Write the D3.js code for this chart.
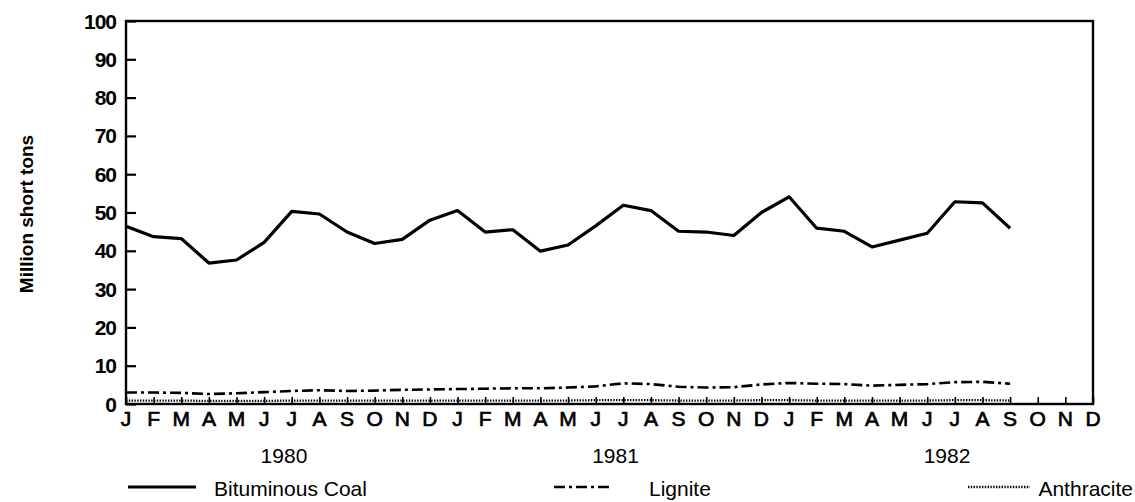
<!DOCTYPE html>
<html>
<head>
<meta charset="utf-8">
<script src="https://cdn.jsdelivr.net/npm/d3@7"></script>
<style>
  html, body { margin: 0; padding: 0; background: #fff; }
  svg { display: block; }
  text { font-family: "Liberation Sans", Arial, Helvetica, sans-serif; fill: #000; }
</style>
</head>
<body>
<svg id="chart" width="1135" height="502"></svg>
<script>
// Monthly coal production, Jan 1980 – Sep 1982 (million short tons)
const monthLetters = ["J","F","M","A","M","J","J","A","S","O","N","D"];
const years = ["1980", "1981", "1982"];
const yTicks = [0, 10, 20, 30, 40, 50, 60, 70, 80, 90, 100];

const bituminous = [
  46.4, 43.7, 43.2, 36.8, 37.6, 42.2, 50.3, 49.6, 44.9, 41.9, 43.0, 48.0,
  50.5, 44.9, 45.5, 39.9, 41.5, 46.5, 51.9, 50.5, 45.1, 44.9, 44.0, 50.0,
  54.1, 45.9, 45.1, 41.0, 42.8, 44.6, 52.8, 52.5, 45.9
];
const lignite = [
  3.0, 3.0, 2.9, 2.6, 2.8, 3.1, 3.4, 3.6, 3.4, 3.5, 3.7, 3.8,
  3.9, 4.0, 4.1, 4.1, 4.3, 4.6, 5.4, 5.2, 4.5, 4.3, 4.4, 5.1,
  5.5, 5.3, 5.2, 4.8, 5.0, 5.2, 5.7, 5.8, 5.3
];
const anthracite = [
  0.9, 0.9, 0.9, 0.8, 0.8, 0.8, 0.9, 0.9, 0.9, 0.9, 0.9, 0.9,
  0.9, 0.9, 0.9, 0.9, 0.9, 1.0, 1.0, 1.0, 0.9, 0.9, 0.9, 1.0,
  1.0, 0.9, 0.9, 0.9, 0.9, 0.9, 1.0, 1.0, 0.9
];

const seriesList = [
  { name: "Bituminous Coal", values: bituminous, dash: null, width: 3.2 },
  { name: "Lignite", values: lignite, dash: "11,4,3,4", width: 2.6 },
  { name: "Anthracite", values: anthracite, dash: "1.4,1.4", width: 2.3 }
];

const svg = d3.select("#chart");
const plotLeft = 126, plotRight = 1093, plotTop = 21, plotBottom = 404;

// one slot per month across the three years
const monthKeys = d3.range(years.length * 12);
const x = d3.scalePoint().domain(monthKeys).range([plotLeft, plotRight]);
const y = d3.scaleLinear().domain([0, 100]).range([plotBottom, plotTop]);

const ink = "#000";

// frame
svg.append("rect")
  .attr("x", plotLeft).attr("y", plotTop)
  .attr("width", plotRight - plotLeft).attr("height", plotBottom - plotTop)
  .attr("fill", "none").attr("stroke", ink).attr("stroke-width", 2.4);

// y axis: inward ticks, labels on the left
const yAxis = d3.axisRight(y).tickValues(yTicks).tickSize(10).tickFormat("");
const gy = svg.append("g").attr("transform", `translate(${plotLeft},0)`).call(yAxis);
gy.select(".domain").remove();
gy.selectAll(".tick line").attr("stroke", ink).attr("stroke-width", 2.2);

svg.append("g").selectAll("text")
  .data(yTicks)
  .join("text")
  .attr("x", 116)
  .attr("y", d => y(d))
  .attr("dy", "0.36em")
  .attr("text-anchor", "end")
  .attr("font-size", 21)
  .attr("font-weight", "bold")
  .attr("letter-spacing", -1)
  .text(d => d);

// y axis title
svg.append("text")
  .attr("transform", `translate(33,${(130 + 298) / 2}) rotate(-90)`)
  .attr("text-anchor", "middle")
  .attr("font-size", 19)
  .attr("font-weight", "bold")
  .text("Million short tons");

// x axis: small upward ticks at each month
const xAxis = d3.axisTop(x).tickSize(7).tickFormat("");
const gx = svg.append("g").attr("transform", `translate(0,${plotBottom})`).call(xAxis);
gx.select(".domain").remove();
gx.selectAll(".tick line").attr("stroke", ink).attr("stroke-width", 1.6);

// month letters
svg.append("g").selectAll("text")
  .data(monthKeys)
  .join("text")
  .attr("x", d => x(d))
  .attr("y", 426)
  .attr("text-anchor", "middle")
  .attr("font-size", 21)
  .attr("stroke", ink)
  .attr("stroke-width", 0.7)
  .text(d => monthLetters[d % 12]);

// year labels, centred under mid-year
svg.append("g").selectAll("text")
  .data(years)
  .join("text")
  .attr("x", (d, i) => (x(i * 12 + 5) + x(i * 12 + 6)) / 2 + 6)
  .attr("y", 463)
  .attr("text-anchor", "middle")
  .attr("font-size", 21)
  .text(d => d);

// series lines
const line = d3.line()
  .x((d, i) => x(i))
  .y(d => y(d))
  .curve(d3.curveLinear);

svg.append("g").selectAll("path")
  .data(seriesList)
  .join("path")
  .attr("d", s => line(s.values))
  .attr("fill", "none")
  .attr("stroke", ink)
  .attr("stroke-width", s => s.width)
  .attr("stroke-linejoin", "round")
  .attr("stroke-dasharray", s => s.dash);

// legend
const legendItems = [
  { s: seriesList[0], x1: 128, x2: 196, tx: 214, anchor: "start" },
  { s: seriesList[1], x1: 554, x2: 609, tx: 649, anchor: "start" },
  { s: seriesList[2], x1: 968, x2: 1030, tx: 1133, anchor: "end" }
];
const lg = svg.append("g").selectAll("g").data(legendItems).join("g");
lg.append("line")
  .attr("x1", d => d.x1).attr("x2", d => d.x2)
  .attr("y1", 487).attr("y2", 487)
  .attr("stroke", ink)
  .attr("stroke-width", d => d.s.width)
  .attr("stroke-dasharray", d => d.s.dash);
lg.append("text")
  .attr("x", d => d.tx)
  .attr("y", 496)
  .attr("text-anchor", d => d.anchor)
  .attr("font-size", 21)
  .text(d => d.s.name);
</script>
</body>
</html>
